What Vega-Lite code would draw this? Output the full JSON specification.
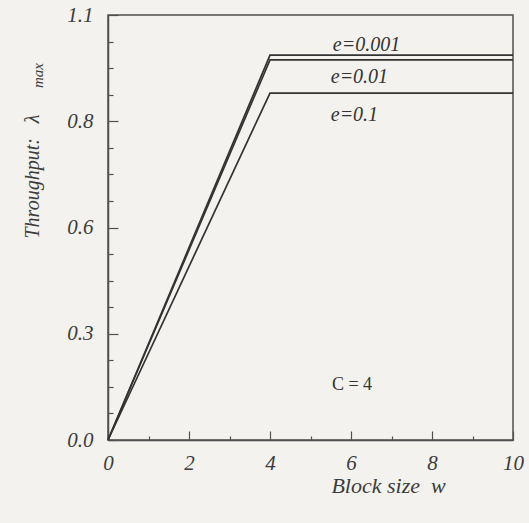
{
  "$schema": "https://vega.github.io/schema/vega-lite/v6.json",
  "width": 405,
  "height": 425,
  "autosize": {"type": "none"},
  "padding": {"left": 108, "top": 15, "right": 16, "bottom": 83},
  "background": "#f3f2ef",
  "config": {
    "view": {"stroke": "#505050", "strokeWidth": 1.5},
    "font": "Liberation Serif"
  },
  "datasets": {
    "lines": [
      {"e": "0.001", "w": 0, "lambda": 0},
      {"e": "0.001", "w": 4, "lambda": 0.996},
      {"e": "0.001", "w": 10, "lambda": 0.996},
      {"e": "0.01", "w": 0, "lambda": 0},
      {"e": "0.01", "w": 4, "lambda": 0.984},
      {"e": "0.01", "w": 10, "lambda": 0.984},
      {"e": "0.1", "w": 0, "lambda": 0},
      {"e": "0.1", "w": 4, "lambda": 0.898},
      {"e": "0.1", "w": 10, "lambda": 0.898}
    ],
    "labels": [
      {"label": "e=0.001", "kind": "curve", "w": 5.55, "lambda": 1.022},
      {"label": "e=0.01", "kind": "curve", "w": 5.5, "lambda": 0.939},
      {"label": "e=0.1", "kind": "curve", "w": 5.5, "lambda": 0.841},
      {"label": "C = 4", "kind": "note", "w": 5.53, "lambda": 0.142}
    ]
  },
  "layer": [
    {
      "data": {"name": "lines"},
      "mark": {"type": "line", "color": "#333333", "strokeWidth": 1.7},
      "encoding": {
        "x": {
          "field": "w",
          "type": "quantitative",
          "scale": {"domain": [0, 10], "nice": false, "zero": false},
          "axis": {
            "values": [0, 0.5, 1, 1.5, 2, 2.5, 3, 3.5, 4, 4.5, 5, 5.5, 6, 6.5, 7, 7.5, 8, 8.5, 9, 9.5, 10],
            "labelExpr": "datum.value % 2 == 0 ? format(datum.value, 'd') : ''",
            "tickSize": {"condition": {"test": "datum.value % 2 == 0", "value": -9}, "value": -4},
            "tickColor": "#505050",
            "tickWidth": 1.2,
            "domainColor": "#505050",
            "domainWidth": 1.5,
            "grid": false,
            "labelFont": "Liberation Serif",
            "labelFontStyle": "italic",
            "labelFontSize": 21,
            "labelColor": "#3c3c3c",
            "labelPadding": 21,
            "labelFlush": false,
            "labelOverlap": false,
            "title": "Block size\u00a0\u00a0w",
            "titleFont": "Liberation Serif",
            "titleFontStyle": "italic",
            "titleFontWeight": "normal",
            "titleFontSize": 22,
            "titleColor": "#3c3c3c",
            "titleAlign": "center",
            "titleBaseline": "middle",
            "titleX": 280,
            "titleY": 45
          }
        },
        "y": {
          "field": "lambda",
          "type": "quantitative",
          "scale": {"domain": [0, 1.1], "nice": false, "zero": false},
          "axis": {
            "orient": "left",
            "values": [0, 0.06875, 0.1375, 0.20625, 0.275, 0.34375, 0.4125, 0.48125, 0.55, 0.61875, 0.6875, 0.75625, 0.825, 0.89375, 0.9625, 1.03125, 1.1],
            "labelExpr": "abs(datum.value / 0.275 - round(datum.value / 0.275)) < 0.001 ? format(datum.value, '.1f') : ''",
            "tickSize": {"condition": {"test": "abs(datum.value / 0.275 - round(datum.value / 0.275)) < 0.001", "value": -10}, "value": -5},
            "tickColor": "#505050",
            "tickWidth": 1.2,
            "domainColor": "#505050",
            "domainWidth": 1.5,
            "grid": false,
            "labelFont": "Liberation Serif",
            "labelFontStyle": "italic",
            "labelFontSize": 21,
            "labelColor": "#3c3c3c",
            "labelPadding": 25,
            "labelFlush": false,
            "labelOverlap": false,
            "title": "Throughput:\u00a0\u00a0\u00a0λ",
            "titleFont": "Liberation Serif",
            "titleFontStyle": "italic",
            "titleFontWeight": "normal",
            "titleFontSize": 20,
            "titleColor": "#3c3c3c",
            "titleAngle": -90,
            "titleAlign": "center",
            "titleBaseline": "middle",
            "titleX": -76,
            "titleY": 161
          }
        },
        "detail": {"field": "e", "type": "nominal"}
      }
    },
    {
      "data": {"name": "labels"},
      "transform": [{"filter": "datum.kind == 'curve'"}],
      "mark": {"type": "text", "align": "left", "baseline": "middle", "font": "Liberation Serif", "fontStyle": "italic", "fontSize": 20, "color": "#333333"},
      "encoding": {
        "x": {"field": "w", "type": "quantitative"},
        "y": {"field": "lambda", "type": "quantitative", "axis": null},
        "text": {"field": "label"}
      }
    },
    {
      "data": {"name": "labels"},
      "transform": [{"filter": "datum.kind == 'note'"}],
      "mark": {"type": "text", "align": "left", "baseline": "middle", "font": "Liberation Serif", "fontSize": 18, "color": "#333333"},
      "encoding": {
        "x": {"field": "w", "type": "quantitative"},
        "y": {
          "field": "lambda",
          "type": "quantitative",
          "axis": {
            "orient": "left",
            "labels": false,
            "ticks": false,
            "domain": false,
            "grid": false,
            "title": "max",
            "titleFont": "Liberation Serif",
            "titleFontStyle": "italic",
            "titleFontWeight": "normal",
            "titleFontSize": 15,
            "titleColor": "#3c3c3c",
            "titleAngle": -90,
            "titleAlign": "center",
            "titleBaseline": "middle",
            "titleX": -71,
            "titleY": 60
          }
        },
        "text": {"field": "label"}
      }
    }
  ],
  "resolve": {"axis": {"y": "independent"}}
}
